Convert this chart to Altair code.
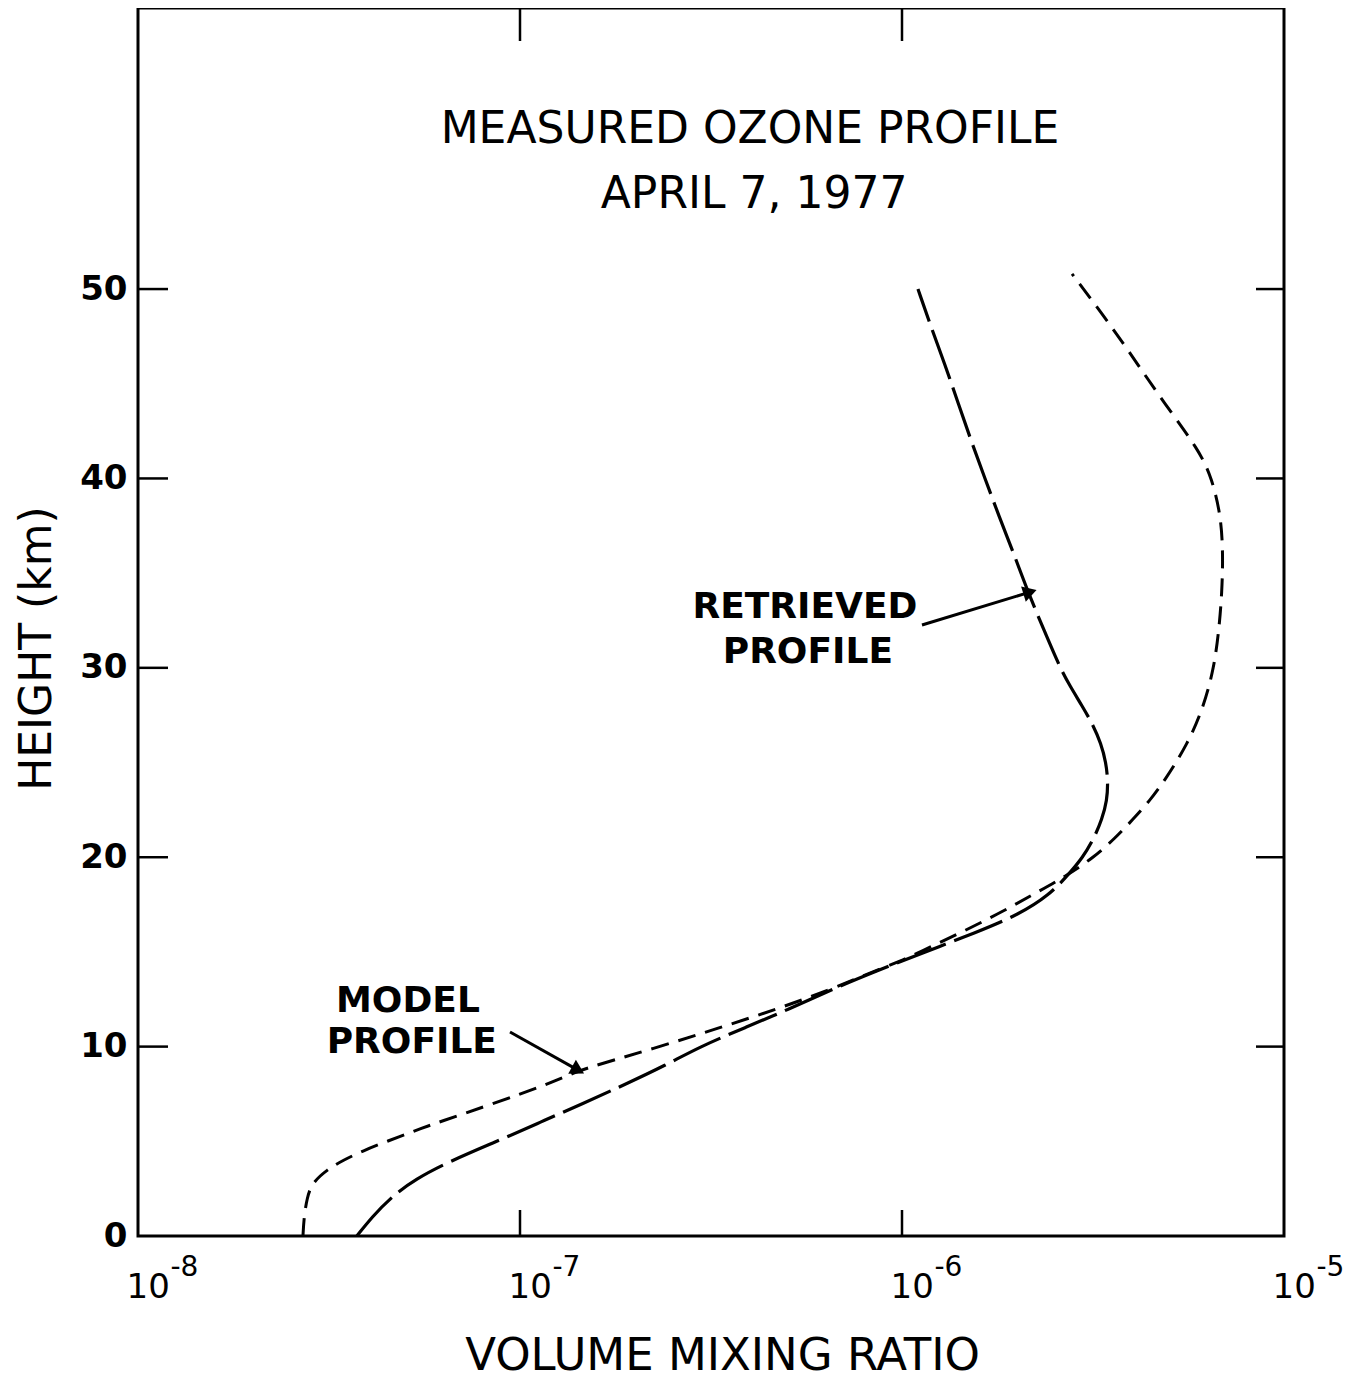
import altair as alt
import pandas as pd

# ---------------- data ----------------
# Retrieved profile (long dashes): height (km) and volume mixing ratio
ret_h = [0, 1, 2, 3, 4, 5, 6, 7, 8, 9, 10, 11, 12, 13, 14, 15, 16, 17, 18, 19,
         20, 21, 22, 23, 24, 25, 26, 27, 28, 29, 30, 32, 34, 36, 38, 40, 42, 44, 46, 48, 50]
ret_v = [3.74e-8, 4.10e-8, 4.57e-8, 5.31e-8, 6.64e-8, 8.71e-8, 1.128e-7, 1.462e-7,
         1.883e-7, 2.397e-7, 2.96e-7, 3.88e-7, 5.09e-7, 6.52e-7, 8.60e-7, 1.149e-6,
         1.553e-6, 2.037e-6, 2.426e-6, 2.704e-6, 2.978e-6, 3.181e-6, 3.339e-6,
         3.441e-6, 3.462e-6, 3.420e-6, 3.319e-6, 3.160e-6, 2.960e-6, 2.760e-6,
         2.592e-6, 2.353e-6, 2.137e-6, 1.964e-6, 1.795e-6, 1.649e-6, 1.516e-6,
         1.402e-6, 1.296e-6, 1.191e-6, 1.101e-6]

# Model profile (short dashes)
mod_h = [0, 1, 2, 2.8, 3.5, 4, 4.5, 5, 5.6, 6, 7, 8, 8.65, 9, 10, 11, 12, 13, 14,
         14.5, 15, 16, 17, 18, 19, 20, 21, 22, 23, 24, 26, 28, 30, 32, 34, 36, 38,
         40, 41.5, 44, 46, 48, 50.8]
mod_v = [2.703e-8, 2.720e-8, 2.769e-8, 2.854e-8, 3.124e-8, 3.441e-8, 3.882e-8,
         4.486e-8, 5.375e-8, 6.100e-8, 8.55e-8, 1.177e-7, 1.393e-7, 1.572e-7,
         2.325e-7, 3.339e-7, 4.735e-7, 6.480e-7, 8.50e-7, 9.88e-7, 1.115e-6,
         1.419e-6, 1.784e-6, 2.189e-6, 2.687e-6, 3.181e-6, 3.611e-6, 4.025e-6,
         4.459e-6, 4.852e-6, 5.606e-6, 6.174e-6, 6.557e-6, 6.758e-6, 6.881e-6,
         6.923e-6, 6.840e-6, 6.479e-6, 5.992e-6, 4.852e-6, 4.148e-6, 3.545e-6,
         2.787e-6]

# axes
x_ticks = [1e-8, 1e-7, 1e-6, 1e-5]
y_ticks = [0, 10, 20, 30, 40, 50]
inner_x_ticks = [1e-7, 1e-6]
inner_y_ticks = [10, 20, 30, 40, 50]

# text inside the frame
title_text = ["MEASURED OZONE PROFILE", "APRIL 7, 1977"]
title_v = [4.0e-7, 4.1e-7]
title_h = [58.4, 54.96]

note_text = ["RETRIEVED", "PROFILE", "MODEL", "PROFILE"]
note_v = [5.57e-7, 5.67e-7, 5.09e-8, 5.21e-8]
note_h = [33.2, 30.83, 12.41, 10.24]

arrow_from_v = [1.128e-6, 9.415e-8]
arrow_from_h = [32.26, 10.77]
arrow_to_v = [2.163e-6, 1.419e-7]
arrow_to_h = [34.0, 8.76]
arrow_angle = [73, 119]

# ---------------- chart ----------------
W, H = 1146, 1228
FONT = "DejaVu Sans"
xscale = alt.Scale(type="log", domain=[1e-8, 1e-5], nice=False)
yscale = alt.Scale(domain=[0, 64.84], nice=False, zero=False)

base_label_expr = "'10'"
exp_label_expr = ("datum.value < 5e-8 ? '-8' : datum.value < 5e-7 ? '-7' : "
                  "datum.value < 5e-6 ? '-6' : '-5'")

xaxis = alt.Axis(values=x_ticks, labelExpr=base_label_expr, labelFont=FONT,
                 labelFontSize=34, labelColor="black", labelAlign="left",
                 labelOffset=-12, labelBaseline="top", labelPadding=34,
                 labelFlush=False, labelOverlap=False, ticks=False,
                 domain=False, grid=False, title="VOLUME MIXING RATIO",
                 titleFont=FONT, titleFontSize=45, titleFontWeight="normal",
                 titleColor="black", titleX=584, titleY=133,
                 titleBaseline="alphabetic", titleAlign="center")
yaxis = alt.Axis(values=y_ticks, labelFont=FONT, labelFontSize=34,
                 labelFontWeight="bold",
                 labelColor="black", labelPadding=11, labelFlush=False,
                 labelOverlap=False, labelBaseline="middle", ticks=False,
                 domain=False, grid=False, title="HEIGHT (km)", titleFont=FONT,
                 titleFontSize=44, titleFontWeight="normal", titleColor="black",
                 titleAngle=270, titleX=-88, titleY=640,
                 titleBaseline="alphabetic", titleAlign="center")

ret_df = pd.DataFrame({"v": ret_v, "h": ret_h, "i": list(range(len(ret_h)))})
mod_df = pd.DataFrame({"v": mod_v, "h": mod_h, "i": list(range(len(mod_h)))})

retrieved = alt.Chart(ret_df).mark_line(
    color="black", strokeWidth=3.2, strokeDash=[52, 9], strokeCap="butt",
    interpolate="basis").encode(
    x=alt.X("v:Q", scale=xscale, axis=xaxis),
    y=alt.Y("h:Q", scale=yscale, axis=yaxis),
    order="i:Q")

model = alt.Chart(mod_df).mark_line(
    color="black", strokeWidth=3, strokeDash=[18, 10], strokeCap="butt",
    interpolate="basis").encode(
    x=alt.X("v:Q", scale=xscale),
    y=alt.Y("h:Q", scale=yscale),
    order="i:Q")

ytick_df = pd.DataFrame({"h": inner_y_ticks})
xtick_df = pd.DataFrame({"v": inner_x_ticks})
left_ticks = alt.Chart(ytick_df).mark_rule(color="black", strokeWidth=2.5).encode(
    y=alt.Y("h:Q", scale=yscale), x=alt.value(0), x2=alt.value(30))
right_ticks = alt.Chart(ytick_df).mark_rule(color="black", strokeWidth=2.5).encode(
    y=alt.Y("h:Q", scale=yscale), x=alt.value(W - 28), x2=alt.value(W))
bottom_ticks = alt.Chart(xtick_df).mark_rule(color="black", strokeWidth=2.5).encode(
    x=alt.X("v:Q", scale=xscale), y=alt.value(H - 26), y2=alt.value(H))
top_ticks = alt.Chart(xtick_df).mark_rule(color="black", strokeWidth=2.5).encode(
    x=alt.X("v:Q", scale=xscale), y=alt.value(0), y2=alt.value(33))

title_df = pd.DataFrame({"t": title_text, "v": title_v, "h": title_h})
titles = alt.Chart(title_df).mark_text(
    font=FONT, fontSize=44, color="black", align="center",
    baseline="middle").encode(
    x=alt.X("v:Q", scale=xscale),
    y=alt.Y("h:Q", scale=yscale), text="t:N")

note_df = pd.DataFrame({"t": note_text, "v": note_v, "h": note_h})
notes = alt.Chart(note_df).mark_text(
    font=FONT, fontSize=36, fontWeight="bold", color="black", align="center",
    baseline="middle").encode(
    x=alt.X("v:Q", scale=xscale),
    y=alt.Y("h:Q", scale=yscale), text="t:N")

arrow_df = pd.DataFrame({"v1": arrow_from_v, "h1": arrow_from_h,
                         "v2": arrow_to_v, "h2": arrow_to_h, "a": arrow_angle})
arrow_lines = alt.Chart(arrow_df).mark_rule(color="black", strokeWidth=3).encode(
    x=alt.X("v1:Q", scale=xscale), x2="v2:Q",
    y=alt.Y("h1:Q", scale=yscale), y2="h2:Q")
arrow_heads = alt.Chart(arrow_df).mark_point(
    shape="triangle-up", filled=True, size=250, color="black", opacity=1).encode(
    x=alt.X("v2:Q", scale=xscale),
    y=alt.Y("h2:Q", scale=yscale),
    angle=alt.Angle("a:Q", scale=None))

main = alt.layer(retrieved, model, left_ticks, right_ticks, bottom_ticks,
                 top_ticks, titles, notes, arrow_lines, arrow_heads)

# exponents of the decade labels, drawn by a second bottom axis on the same domain
exp_axis = alt.Axis(orient="bottom", values=x_ticks, labelExpr=exp_label_expr,
                    labelFont=FONT, labelFontSize=28, labelColor="black",
                    labelAlign="left", labelOffset=32, labelBaseline="top",
                    labelPadding=17, labelFlush=False, labelOverlap=False,
                    ticks=False, domain=False, grid=False, title=None)
exponents = alt.Chart(pd.DataFrame({"v": x_ticks})).mark_rule(opacity=0).encode(
    x=alt.X("v:Q", scale=alt.Scale(type="log", domain=[1e-8, 1e-5], nice=False),
            axis=exp_axis))

chart = alt.layer(main, exponents).resolve_scale(x="independent").properties(
    width=W, height=H,
    padding={"left": 130, "top": 0, "right": 60, "bottom": 146},
    autosize=alt.AutoSizeParams(type="none"),
).configure_view(stroke="black", strokeWidth=3)

chart.save("out.html", embed_options={"renderer": "svg", "actions": False})
